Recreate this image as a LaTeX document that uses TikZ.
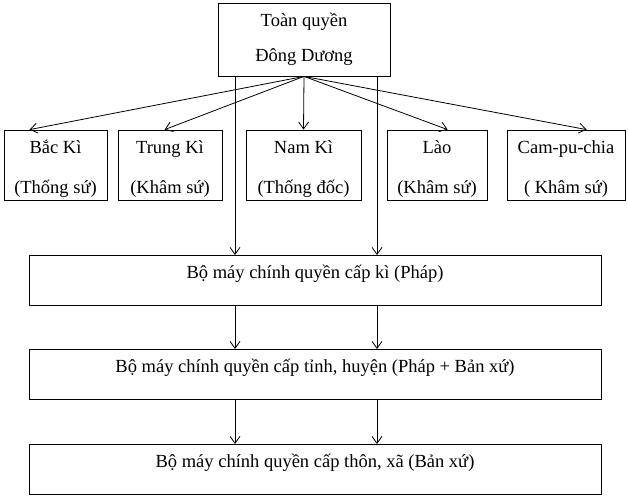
\documentclass[tikz,border=0pt]{standalone}
\usepackage{fontspec}
\setmainfont{Liberation Serif}
\usetikzlibrary{arrows.meta}
\newcommand{\kystrut}{\rule{0pt}{21pt}}
\begin{document}
\begin{tikzpicture}[x=1pt,y=-1pt,line width=0.8pt,
    >={Straight Barb[length=7pt,width=10pt]},
    topbox/.style={draw,align=center,minimum width=172pt,minimum height=73pt,font=\fontsize{18.5}{35}\selectfont},
    kybox/.style={draw,align=center,inner ysep=0pt,minimum height=70pt,font=\fontsize{18.5}{40}\selectfont},
    levelbox/.style={draw,anchor=north,minimum width=572pt,inner ysep=0pt,text height=23pt,text depth=27pt,font=\fontsize{18.5}{22}\selectfont}]
        \useasboundingbox (0,0) rectangle (628,499);

        \node[topbox] (tq) at (304,39.5) {Toàn quyền\\Đông Dương};

        \node[kybox,minimum width=103pt] (bk) at (55.5,165) {\kystrut Bắc Kì\\(Thống sứ)};
        \node[kybox,minimum width=104pt] (tk) at (170,165) {\kystrut Trung Kì\\(Khâm sứ)};
        \node[kybox,minimum width=115pt] (nk) at (303.5,165) {\kystrut Nam Kì\\(Thống đốc)};
        \node[kybox,minimum width=100pt] (lao) at (437,165) {\kystrut Lào\\(Khâm sứ)};
        \node[kybox,minimum width=118pt] (cpc) at (566,165) {\kystrut Cam-pu-chia\\( Khâm sứ)};

        \node[levelbox] (ki) at (315,255) {Bộ máy chính quyền cấp kì (Pháp)};
        \node[levelbox] (tinh) at (315,349) {Bộ máy chính quyền cấp tỉnh, huyện (Pháp + Bản xứ)};
        \node[levelbox] (xa) at (315,444) {Bộ máy chính quyền cấp thôn, xã (Bản xứ)};

        \coordinate (l) at (235,76);
        \coordinate (r) at (377,76);

        \draw[->] (tq.south) -- ([xshift=26pt]bk.north west);
        \draw[->] (tq.south) -- ([xshift=47pt]tk.north west);
        \draw[->] (tq.south) -- (nk.north);
        \draw[->] (tq.south) -- ([xshift=61pt]lao.north west);
        \draw[->] (tq.south) -- ([xshift=80pt]cpc.north west);

        \draw[->] (l) -- (l |- ki.north);
        \draw[->] (r) -- (r |- ki.north);
        \draw[->] (l |- ki.south) -- (l |- tinh.north);
        \draw[->] (r |- ki.south) -- (r |- tinh.north);
        \draw[->] (l |- tinh.south) -- (l |- xa.north);
        \draw[->] (r |- tinh.south) -- (r |- xa.north);
    \end{tikzpicture}
\end{document}
